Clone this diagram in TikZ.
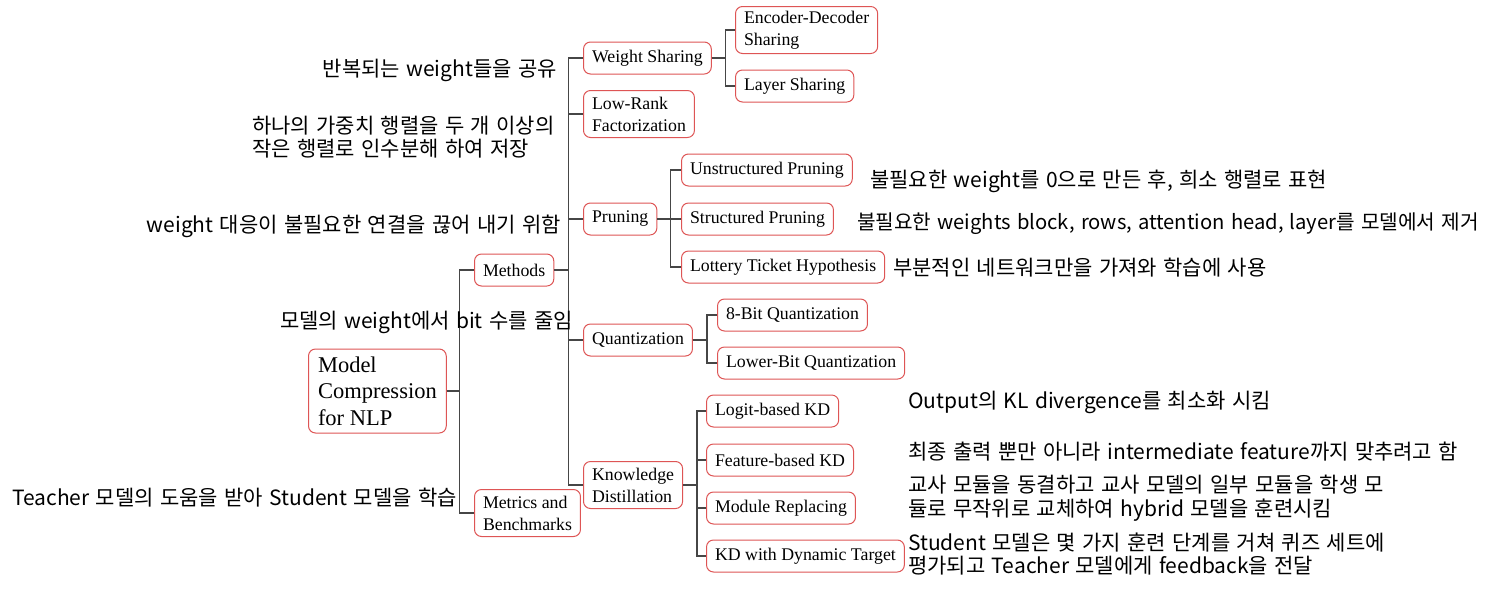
\documentclass[tikz,border=0pt]{standalone}
\usepackage{fontspec}
\setmainfont{Liberation Serif}
\newfontfamily\kr[WordSpace=1.35]{Noto Sans CJK KR}
\definecolor{boxred}{RGB}{222,85,85}
\definecolor{linegray}{RGB}{70,70,70}
\begin{document}
\begin{tikzpicture}[x=1pt,y=-1pt,
  box/.style={draw=boxred, line width=1pt, rounded corners=7pt, fill=white,
    font=\fontsize{17.8}{22}\selectfont, align=left, inner xsep=8.5pt,
    minimum height=32pt, anchor=west},
  box2/.style={box, minimum height=47pt},
  note/.style={font=\kr\fontsize{21}{23.5}\selectfont, inner sep=0pt, align=left},
  link/.style={draw=linegray, line width=1.2pt}]
\useasboundingbox (0,0) rectangle (1485,595);

% nodes
\node[box, font=\fontsize{22.5}{26.5}\selectfont, inner xsep=9.5pt, minimum height=84pt] (root) at (308,391) {Model\\Compression\\for NLP};
\node[box] (meth) at (474,270) {Methods};
\node[box2] (metr) at (474,513) {Metrics and\\Benchmarks};
\node[box] (ws) at (583,58) {Weight Sharing};
\node[box2] (lrf) at (583,114) {Low-Rank\\Factorization};
\node[box] (prun) at (583,219) {Pruning};
\node[box] (quant) at (583,340) {Quantization};
\node[box2] (kd) at (583,485) {Knowledge\\Distillation};
\node[box2] (eds) at (735,30) {Encoder-Decoder\\Sharing};
\node[box] (ls) at (735,86) {Layer Sharing};
\node[box] (up) at (681,170) {Unstructured Pruning};
\node[box] (sp) at (681,219) {Structured Pruning};
\node[box] (lth) at (681,267) {Lottery Ticket Hypothesis};
\node[box] (b8) at (717,315) {8-Bit Quantization};
\node[box] (lb) at (717,363) {Lower-Bit Quantization};
\node[box] (lkd) at (706,411) {Logit-based KD};
\node[box] (fkd) at (706,460) {Feature-based KD};
\node[box] (mr) at (706,508) {Module Replacing};
\node[box] (kdt) at (706,556) {KD with Dynamic Target};

% connectors
\draw[link] (root.east) -- ++(13,0) |- (meth.west);
\draw[link] (root.east) -- ++(13,0) |- (metr.west);
\foreach \c in {ws,lrf,prun,quant,kd}
  \draw[link] (meth.east) -- ++(14,0) |- (\c.west);
\foreach \c in {eds,ls}
  \draw[link] (ws.east) -- ++(14,0) |- (\c.west);
\foreach \c in {up,sp,lth}
  \draw[link] (prun.east) -- ++(13,0) |- (\c.west);
\foreach \c in {b8,lb}
  \draw[link] (quant.east) -- ++(14,0) |- (\c.west);
\foreach \c in {lkd,fkd,mr,kdt}
  \draw[link] (kd.east) -- ++(14,0) |- (\c.west);

% annotations
\node[note, anchor=east] (n1) at (557,70) {반복되는 weight들을 공유};
\node[note, anchor=west] (n2) at (252,137) {하나의 가중치 행렬을 두 개 이상의\\작은 행렬로 인수분해 하여 저장};
\node[note, anchor=east] (n3) at (561,226) {weight 대응이 불필요한 연결을 끊어 내기 위함};
\node[note, anchor=east] (n4) at (573,322) {모델의 weight에서 bit 수를 줄임};
\node[note, anchor=east] (n5) at (457,498) {Teacher 모델의 도움을 받아 Student 모델을 학습};
\node[note, anchor=west] (n6) at (870,181) {불필요한 weight를 0으로 만든 후, 희소 행렬로 표현};
\node[note, anchor=west, font=\kr\fontsize{20.2}{23.5}\selectfont] (n7) at (857,224) {불필요한 weights block, rows, attention head, layer를 모델에서 제거};
\node[note, anchor=west] (n8) at (893,268) {부분적인 네트워크만을 가져와 학습에 사용};
\node[note, anchor=west] (n9) at (908,402) {Output의 KL divergence를 최소화 시킴};
\node[note, anchor=west] (n10) at (908,452) {최종 출력 뿐만 아니라 intermediate feature까지 맞추려고 함};
\node[note, anchor=west] (n11) at (908,498) {교사 모듈을 동결하고 교사 모델의 일부 모듈을 학생 모\\듈로 무작위로 교체하여 hybrid 모델을 훈련시킴};
\node[note, anchor=west] (n12) at (908,554) {Student 모델은 몇 가지 훈련 단계를 거쳐 퀴즈 세트에\\평가되고 Teacher 모델에게 feedback을 전달};
\end{tikzpicture}
\end{document}
